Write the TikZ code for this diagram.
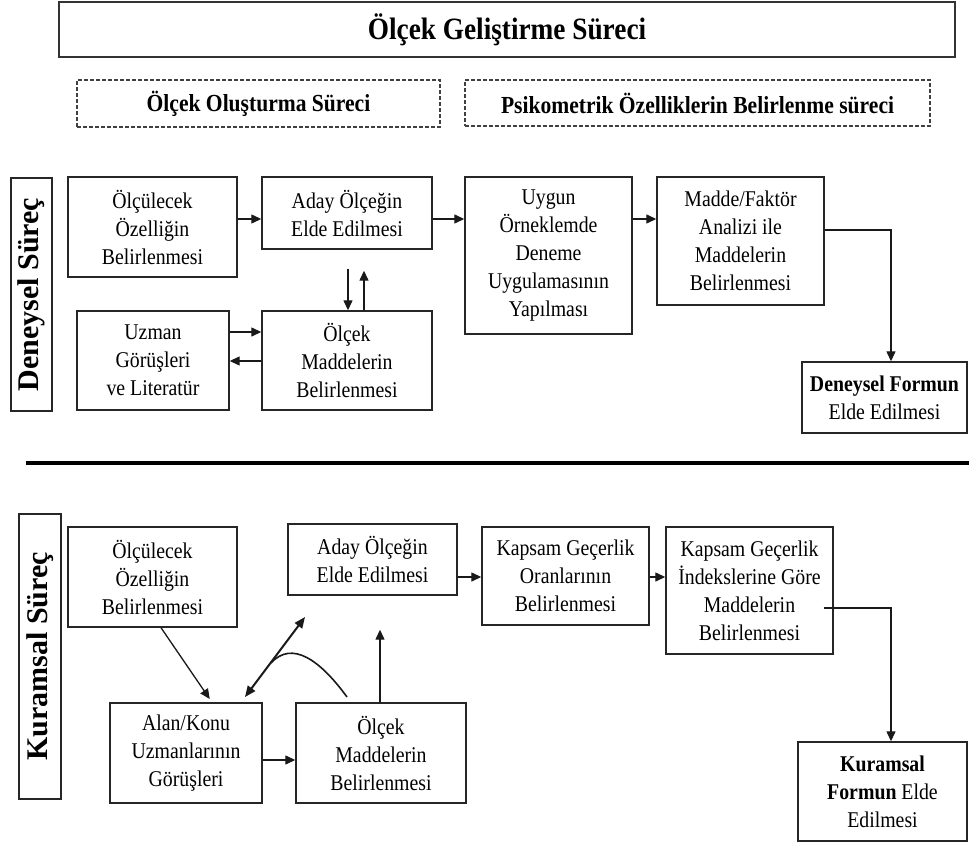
\documentclass[tikz,border=0pt]{standalone}
\usepackage{fontspec}
\setmainfont{Liberation Serif}[FakeStretch=0.88]
\newfontfamily\labfont{Liberation Serif}
\usetikzlibrary{arrows.meta,calc}
\begin{document}
\begin{tikzpicture}[x=1pt,y=-1pt,
  box/.style={draw=black!85, line width=1.4pt, inner sep=0pt, align=center,
    font=\fontsize{22.5}{28}\selectfont},
  dbox/.style={draw=black!75, line width=1.2pt, dash pattern=on 4pt off 2pt, inner sep=0pt,
    font=\fontsize{24.5}{28}\selectfont\bfseries},
  lab/.style={draw=black!85, line width=1.4pt, inner sep=0pt,
    font=\labfont\fontsize{30}{34}\selectfont\bfseries},
  arr/.style={draw=black!90, line width=1.3pt, -{Triangle[length=10pt,width=9pt]}},
  ln/.style={draw=black!90, line width=1.3pt}]
\useasboundingbox (0,0) rectangle (969,845);

% header
\node[draw=black!80, line width=1.6pt, minimum width=896, minimum height=55, inner sep=0pt,
  font=\fontsize{31}{34}\selectfont\bfseries] (title) at (507,29.5) {Ölçek Geliştirme Süreci};
\node[dbox, minimum width=363, minimum height=47] (d1) at (258.5,103.5) {Ölçek Oluşturma Süreci};
\node[dbox, minimum width=465, minimum height=46] (d2) at (697.5,103) {Psikometrik Özelliklerin Belirlenme süreci\hspace{40pt}};

% upper section
\node[lab, minimum width=41, minimum height=233] (labA) at (31.5,294.5) {};
\node[rotate=90, font=\labfont\fontsize{30}{34}\selectfont\bfseries] at (labA.center) {Deneysel Süreç};

\node[box, minimum width=169, minimum height=100] (A1) at (152.5,227) {Ölçülecek\\Özelliğin\\Belirlenmesi};
\node[box, minimum width=170, minimum height=72] (A2) at (347,213) {Aday Ölçeğin\\Elde Edilmesi};
\node[box, minimum width=152, minimum height=99] (A3) at (153,360.5) {Uzman\\Görüşleri\\ve Literatür};
\node[box, minimum width=170, minimum height=99] (A4) at (347,360.5) {Ölçek\\Maddelerin\\Belirlenmesi};
\node[box, minimum width=167, minimum height=157] (A5) at (548.5,255.5) {Uygun\\Örneklemde\\Deneme\\Uygulamasının\\Yapılması};
\node[box, minimum width=167, minimum height=128] (A6) at (740.5,241) {Madde/Faktör\\Analizi ile\\Maddelerin\\Belirlenmesi};
\node[box, minimum width=165, minimum height=71] (A7) at (884.5,397.5) {\textbf{Deneysel Formun}\\Elde Edilmesi};

\draw[arr] (A1.east |- 0,219) -- (A2.west |- 0,219);
\draw[arr] (A2.east |- 0,219) -- (A5.west |- 0,219);
\draw[arr] (A5.east |- 0,219) -- (A6.west |- 0,219);
\coordinate (kA) at (891,0);
\draw[arr] (A6.east |- 0,230) -| (A7.north -| kA);
\draw[arr, shorten <=19pt] (A2.south -| 348,0) -- (A4.north -| 348,0);
\draw[arr, shorten >=21pt] (A4.north -| 364,0) -- (A2.south -| 364,0);
\draw[arr] (A3.east |- 0,332) -- (A4.west |- 0,332);
\draw[arr] (A4.west |- 0,361) -- (A3.east |- 0,361);

% divider
\coordinate (hl) at (26,463);
\coordinate (hr) at (969,463);
\draw[line width=4pt] (hl) -- (hr);

% lower section
\node[lab, minimum width=42, minimum height=285] (labB) at (40,656.5) {};
\node[rotate=90, font=\labfont\fontsize{30}{34}\selectfont\bfseries] at (labB.center) {Kuramsal Süreç};

\node[box, minimum width=169, minimum height=100] (B1) at (152.5,577) {Ölçülecek\\Özelliğin\\Belirlenmesi};
\node[box, minimum width=169, minimum height=71] (B2) at (372.5,559.5) {Aday Ölçeğin\\Elde Edilmesi};
\node[box, minimum width=167, minimum height=98] (B3) at (565.5,576) {Kapsam Geçerlik\\Oranlarının\\Belirlenmesi};
\node[box, minimum width=167, minimum height=127] (B4) at (749.5,590.5) {Kapsam Geçerlik\\İndekslerine Göre\\Maddelerin\\Belirlenmesi};
\node[box, minimum width=152, minimum height=100] (B5) at (186,753) {Alan/Konu\\Uzmanlarının\\Görüşleri};
\node[box, minimum width=170, minimum height=100] (B6) at (381,753) {Ölçek\\Maddelerin\\Belirlenmesi};
\node[box, minimum width=169, minimum height=99] (B7) at (882.5,791.5) {\textbf{Kuramsal}\\\textbf{Formun} Elde\\Edilmesi};

\draw[arr] (B2.east |- 0,577) -- (B3.west |- 0,577);
\draw[arr] (B3.east |- 0,577) -- (B4.west |- 0,577);
\draw[arr] ($(B4.east |- 0,608)+(-10,0)$) -| (B7.north -| kA);
\draw[arr] (B5.east |- 0,760) -- (B6.west |- 0,760);
\draw[arr, shorten >=4pt] (B1.south -| 161,0) -- (B5.north -| 212,0);
\draw[arr, shorten >=34pt] (B6.north -| 380,0) -- (B2.south -| 380,0);
\coordinate (e1) at (245,697);
\coordinate (e2) at (305,617);
\draw[draw=black!90, line width=2pt, {Triangle[length=11pt,width=9pt]}-{Triangle[length=11pt,width=9pt]}] (e1) -- (e2);
\coordinate (c0) at (347,697);
\coordinate (c3) at (271,663);
\draw[ln, line width=1.6pt] (c0) .. controls (320,660) and (292,640) .. (c3);
\end{tikzpicture}
\end{document}
